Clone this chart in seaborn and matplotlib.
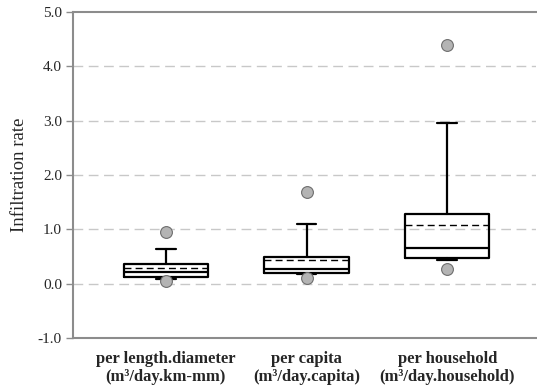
import matplotlib
matplotlib.use("Agg")
import matplotlib.pyplot as plt
import seaborn as sns

categories = ["per length.diameter\n(m³/day.km-mm)",
              "per capita\n(m³/day.capita)",
              "per household\n(m³/day.household)"]
q1 = [0.12, 0.20, 0.47]
median = [0.22, 0.26, 0.66]
q3 = [0.36, 0.49, 1.29]
mean = [0.29, 0.43, 1.08]
whisker_low = [0.08, 0.17, 0.44]
whisker_high = [0.63, 1.09, 2.95]
outliers = [[0.95, 0.05], [1.68, 0.10], [4.40, 0.26]]
y_ticks = [-1.0, 0.0, 1.0, 2.0, 3.0, 4.0, 5.0]


def plot_boxes():
    sns.set_style("white")
    plt.rcParams["font.family"] = ["Liberation Serif", "DejaVu Serif"]

    fig = plt.figure(figsize=(5.37, 3.92), dpi=100)
    ax = fig.add_axes([0.136, 0.138, 0.862, 0.831])

    stats = []
    for i, name in enumerate(categories):
        stats.append({
            "label": name,
            "q1": q1[i], "med": median[i], "q3": q3[i], "mean": mean[i],
            "whislo": whisker_low[i], "whishi": whisker_high[i],
            "fliers": outliers[i],
        })

    ax.bxp(stats, positions=range(len(categories)), widths=0.6,
           capwidths=0.14, showmeans=True, meanline=True,
           boxprops=dict(color="black", linewidth=1.6),
           medianprops=dict(color="black", linewidth=1.6),
           whiskerprops=dict(color="black", linewidth=1.6),
           capprops=dict(color="black", linewidth=1.6),
           meanprops=dict(color="black", linewidth=1.0, linestyle=(0, (5, 3))),
           flierprops=dict(marker="o", markersize=8.5, markerfacecolor="#b4b4b4",
                           markeredgecolor="#6e6e6e", markeredgewidth=0.8))

    ax.set_xlim(-0.66, 2.63)
    ax.set_ylim(-1.0, 5.0)
    ax.set_yticks(y_ticks)
    ax.set_yticklabels([f"{v:.1f}" for v in y_ticks], fontsize=11)
    ax.set_xticklabels(categories, fontsize=12, fontweight="bold", linespacing=1.15)
    ax.set_ylabel("Infiltration rate", fontsize=13.5, labelpad=7)

    for v in y_ticks[1:-1]:
        ax.axhline(v, color="#c8c8c8", linewidth=1.0, linestyle=(0, (7, 4)), zorder=0)

    ax.spines["right"].set_visible(False)
    for side in ["left", "top", "bottom"]:
        ax.spines[side].set_color("#8c8c8c")
        ax.spines[side].set_linewidth(1.5)

    ax.tick_params(axis="y", left=True, length=5, color="#8c8c8c", width=1.0, pad=3)
    ax.tick_params(axis="x", bottom=False, pad=6)

    fig.savefig("out.png", dpi=100)


if __name__ == "__main__":
    plot_boxes()
